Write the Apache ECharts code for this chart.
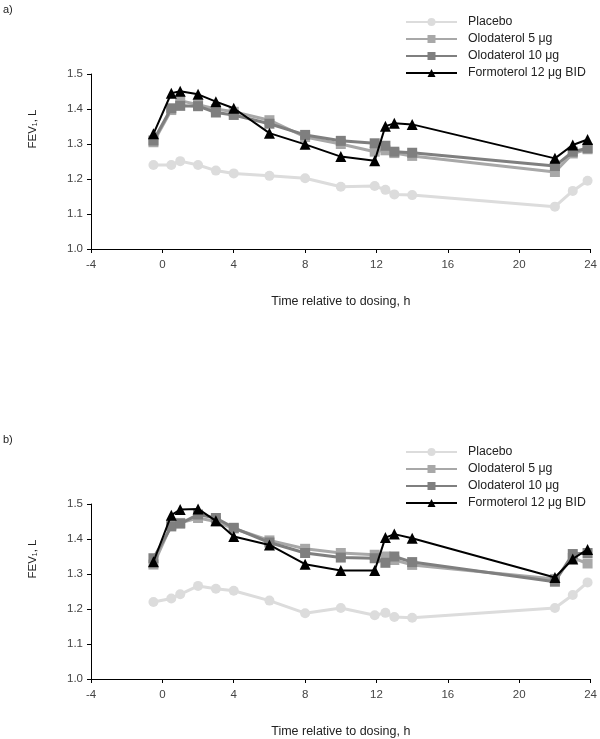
<!DOCTYPE html>
<html>
<head>
<meta charset="utf-8">
<script src="https://cdn.jsdelivr.net/npm/echarts@6/dist/echarts.min.js"></script>
<style>html,body{margin:0;padding:0;background:#fff}#c{width:600px;height:739px}</style>
</head>
<body>
<div id="c"></div>
<script>
// ---- data ----
const times = [-0.5, 0.5, 1, 2, 3, 4, 6, 8, 10, 11.9, 12.5, 13, 14, 22, 23, 23.83];
const seriesNames = ['Placebo', 'Olodaterol 5 μg', 'Olodaterol 10 μg', 'Formoterol 12 μg BID'];
const xTicks = [-4, 0, 4, 8, 12, 16, 20, 24];
const yTicks = [1.0, 1.1, 1.2, 1.3, 1.4, 1.5];
// panel a
const aPlacebo = [1.240, 1.240, 1.251, 1.240, 1.224, 1.216, 1.209, 1.202, 1.178, 1.180, 1.169, 1.156, 1.154, 1.121, 1.166, 1.195];
const aOlo5    = [1.305, 1.397, 1.424, 1.412, 1.400, 1.392, 1.368, 1.320, 1.300, 1.278, 1.282, 1.274, 1.266, 1.220, 1.273, 1.285];
const aOlo10   = [1.310, 1.402, 1.409, 1.408, 1.390, 1.383, 1.358, 1.326, 1.309, 1.302, 1.295, 1.278, 1.275, 1.237, 1.278, 1.288];
const aFormo   = [1.329, 1.445, 1.451, 1.442, 1.421, 1.402, 1.331, 1.299, 1.264, 1.252, 1.351, 1.359, 1.356, 1.259, 1.297, 1.313];
// panel b
const bPlacebo = [1.220, 1.230, 1.242, 1.266, 1.258, 1.252, 1.224, 1.188, 1.203, 1.182, 1.189, 1.177, 1.175, 1.203, 1.240, 1.276];
const bOlo5    = [1.327, 1.440, 1.446, 1.460, 1.450, 1.430, 1.396, 1.372, 1.360, 1.355, 1.350, 1.340, 1.326, 1.286, 1.346, 1.330];
const bOlo10   = [1.345, 1.436, 1.444, 1.470, 1.460, 1.432, 1.390, 1.360, 1.347, 1.345, 1.332, 1.350, 1.334, 1.278, 1.357, 1.360];
const bFormo   = [1.335, 1.468, 1.484, 1.486, 1.452, 1.407, 1.383, 1.328, 1.310, 1.310, 1.404, 1.414, 1.402, 1.290, 1.343, 1.370];

const styles = [
  {color: '#dcdcdc', symbol: 'circle', size: 10, width: 3},
  {color: '#a8a8a8', symbol: 'rect', size: 10, width: 3},
  {color: '#7f7f7f', symbol: 'rect', size: 10, width: 3},
  {color: '#000000', symbol: 'triangle', size: 11, width: 2}
];
const panels = [[aPlacebo, aOlo5, aOlo10, aFormo], [bPlacebo, bOlo5, bOlo10, bFormo]];

const FONT = 'Liberation Sans, Arial, sans-serif';
const gridTops = [74, 504];
const gridH = 175;

const grids = [], xAxes = [], yAxes = [], series = [], legends = [], graphics = [];
panels.forEach((vals, p) => {
  grids.push({left: 91, width: 500, top: gridTops[p], height: gridH});
  xAxes.push({
    type: 'value', gridIndex: p, min: xTicks[0], max: xTicks[xTicks.length - 1], interval: 4,
    axisLine: {onZero: false, lineStyle: {color: '#000', width: 1}},
    axisTick: {show: true, length: 4, lineStyle: {color: '#000'}},
    splitLine: {show: false},
    axisLabel: {color: '#444', fontSize: 11.5, fontFamily: FONT, margin: 10},
    name: 'Time relative to dosing, h', nameLocation: 'middle', nameGap: 46,
    nameTextStyle: {color: '#222', fontSize: 12.5, fontFamily: FONT}
  });
  yAxes.push({
    type: 'value', gridIndex: p, min: yTicks[0], max: yTicks[yTicks.length - 1], interval: 0.1,
    axisLine: {show: true, onZero: false, lineStyle: {color: '#000', width: 1}},
    axisTick: {show: true, length: 4, lineStyle: {color: '#000'}},
    splitLine: {show: false},
    axisLabel: {color: '#444', fontSize: 11.5, fontFamily: FONT, margin: 8, formatter: v => v.toFixed(1)}
  });
  vals.forEach((arr, i) => {
    const st = styles[i];
    series.push({
      name: seriesNames[i], type: 'line', xAxisIndex: p, yAxisIndex: p,
      data: times.map((t, k) => [t, arr[k]]),
      symbol: st.symbol, symbolSize: st.size, showSymbol: true,
      lineStyle: {color: st.color, width: st.width},
      itemStyle: {color: st.color, borderWidth: 0},
      emphasis: {disabled: true}, animation: false, z: 2 + i
    });
  });
  legends.push({
    data: seriesNames, orient: 'vertical', left: 400, top: gridTops[p] - 63,
    itemWidth: 51, itemHeight: 10, itemGap: 5,
    textStyle: {color: '#222', fontSize: 12.3, fontFamily: FONT, padding: [0, 0, 0, 6]},
    selectedMode: false
  });
  graphics.push({
    type: 'text', left: 3, top: gridTops[p] - 70,
    style: {text: p === 0 ? 'a)' : 'b)', fill: '#222', font: '11px ' + FONT}
  });
  graphics.push({
    type: 'text', x: 33, y: gridTops[p] + 55, rotation: Math.PI / 2,
    style: {text: 'FEV₁, L', fill: '#222', font: '11.5px ' + FONT, align: 'center', verticalAlign: 'middle'}
  });
});

const chart = echarts.init(document.getElementById('c'), null, {renderer: 'canvas'});
chart.setOption({
  animation: false,
  grid: grids, xAxis: xAxes, yAxis: yAxes, series: series, legend: legends, graphic: graphics
});
</script>
</body>
</html>
